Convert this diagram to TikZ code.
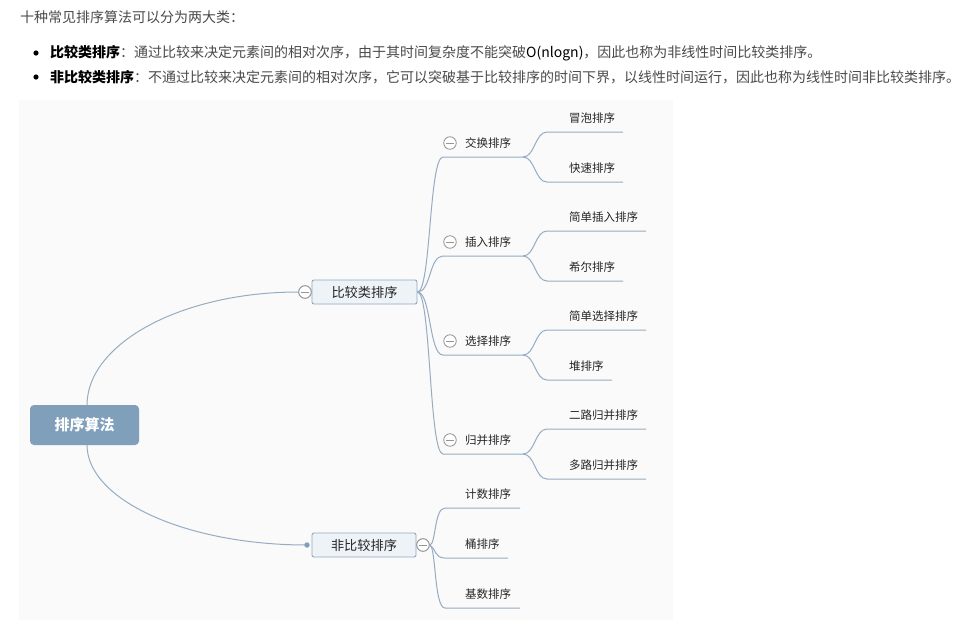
\documentclass[tikz,border=0pt]{standalone}
\usepackage{fontspec}
\setmainfont{Noto Sans CJK SC}
\definecolor{linec}{HTML}{96ACC3}
\definecolor{nodefill}{HTML}{EEF3F8}
\definecolor{nodeborder}{HTML}{90A8C2}
\definecolor{rootfill}{HTML}{809FBA}
\definecolor{panel}{HTML}{FAFAFA}
\definecolor{txt}{HTML}{262626}
\definecolor{hdr}{HTML}{4A4A4A}
\definecolor{ccol}{HTML}{959595}
\newcommand\leaffont{\fontsize{11.5}{13}\selectfont}
\newcommand\hdrfont{\fontsize{14}{16}\selectfont}
\begin{document}
\begin{tikzpicture}[x=1pt,y=-1pt,
  branch/.style={draw=linec, line width=1pt},
  leaf/.style={anchor=west, inner sep=0pt, font=\leaffont, text=txt},
  hdrtext/.style={anchor=west, inner sep=0pt, font=\hdrfont, text=hdr},
  minus/.style={circle, draw=ccol, fill=white, minimum size=12.5pt, inner sep=0pt, line width=0.85pt,
    path picture={\draw[ccol, line width=0.85pt] ([xshift=-3.8pt]path picture bounding box.center) -- ([xshift=3.8pt]path picture bounding box.center);}},
  catbox/.style={draw=nodeborder, fill=nodefill, rounded corners=2pt, line width=0.9pt, minimum width=105pt, minimum height=24pt, inner sep=0pt, font=\fontsize{13.2}{15}\selectfont, text=txt},
  rootbox/.style={fill=rootfill, rounded corners=4pt, minimum width=109pt, minimum height=40pt, inner sep=0pt, font=\fontsize{15}{17}\selectfont\bfseries, text=white}
]
\useasboundingbox (0,0) rectangle (976,630);
\fill[white] (0,0) rectangle (976,630);
\fill[panel] (19,100) rectangle (673,620);

% header text
\node[hdrtext] (intro) at (20,17) {十种常见排序算法可以分为两大类：};
\fill[black] (36,53) circle (2.6pt);
\node[hdrtext] (b1) at (50,53) {\textbf{\textcolor{black}{比较类排序}}：通过比较来决定元素间的相对次序，由于其时间复杂度不能突破\textcolor{black}{O(nlogn)}，因此也称为非线性时间比较类排序。};
\fill[black] (36,77) circle (2.6pt);
\node[hdrtext] (b2) at (50,77) {\textbf{\textcolor{black}{非比较类排序}}：不通过比较来决定元素间的相对次序，它可以突破基于比较排序的时间下界，以线性时间运行，因此也称为线性时间非比较类排序。};

% root and categories
\node[rootbox] (root) at (84.5,425) {排序算法};
\node[catbox] (cmp) at (364.5,292) {比较类排序};
\node[catbox, minimum width=104pt] (ncmp) at (364,545) {非比较排序};
\node[minus] (cmpm) at (305,292) {};
\node[minus] (ncmpm) at (423,545) {};
\coordinate (rt) at ([xshift=2.5pt]root.north);
\coordinate (rb) at ([xshift=2.5pt]root.south);
\draw[branch] (rt) .. controls (87.5,343) and (182,292) .. (cmpm.west);
\draw[branch] (rb) .. controls (87.5,500) and (186,545) .. (307,545);
\fill[rootfill] (307,545) circle (2.7pt);

% ---- comparison children
% 交换排序
\node[minus] (m1) at (450,143) {};
\node[leaf] (t1) at (465,143) {交换排序};
\coordinate (u1a) at (443,157); \coordinate (u1b) at (523,157);
\draw[branch] (cmp.east) .. controls (431,292) and (429,157) .. (u1a) -- (u1b);
\node[leaf] (g11) at (569,118) {冒泡排序};
\coordinate (g11a) at (547,132); \coordinate (g11b) at (623,132);
\draw[branch] (u1b) .. controls (535,157) and (535,132) .. (g11a) -- (g11b);
\node[leaf] (g12) at (569,168) {快速排序};
\coordinate (g12a) at (547,182); \coordinate (g12b) at (623,182);
\draw[branch] (u1b) .. controls (535,157) and (535,182) .. (g12a) -- (g12b);

% 插入排序
\node[minus] (m2) at (450,242) {};
\node[leaf] (t2) at (465,242) {插入排序};
\coordinate (u2a) at (443,256); \coordinate (u2b) at (523,256);
\draw[branch] (cmp.east) .. controls (431,292) and (429,256) .. (u2a) -- (u2b);
\node[leaf] (g21) at (569,217) {简单插入排序};
\coordinate (g21a) at (547,231); \coordinate (g21b) at (646,231);
\draw[branch] (u2b) .. controls (535,256) and (535,231) .. (g21a) -- (g21b);
\node[leaf] (g22) at (569,267) {希尔排序};
\coordinate (g22a) at (547,281); \coordinate (g22b) at (623,281);
\draw[branch] (u2b) .. controls (535,256) and (535,281) .. (g22a) -- (g22b);

% 选择排序
\node[minus] (m3) at (450,341) {};
\node[leaf] (t3) at (465,341) {选择排序};
\coordinate (u3a) at (443,355); \coordinate (u3b) at (523,355);
\draw[branch] (cmp.east) .. controls (431,292) and (429,355) .. (u3a) -- (u3b);
\node[leaf] (g31) at (569,316) {简单选择排序};
\coordinate (g31a) at (547,330); \coordinate (g31b) at (646,330);
\draw[branch] (u3b) .. controls (535,355) and (535,330) .. (g31a) -- (g31b);
\node[leaf] (g32) at (569,366) {堆排序};
\coordinate (g32a) at (547,380); \coordinate (g32b) at (612,380);
\draw[branch] (u3b) .. controls (535,355) and (535,380) .. (g32a) -- (g32b);

% 归并排序
\node[minus] (m4) at (450,440) {};
\node[leaf] (t4) at (465,440) {归并排序};
\coordinate (u4a) at (443,454); \coordinate (u4b) at (523,454);
\draw[branch] (cmp.east) .. controls (431,292) and (429,454) .. (u4a) -- (u4b);
\node[leaf] (g41) at (569,415) {二路归并排序};
\coordinate (g41a) at (547,429); \coordinate (g41b) at (646,429);
\draw[branch] (u4b) .. controls (535,454) and (535,429) .. (g41a) -- (g41b);
\node[leaf] (g42) at (569,465) {多路归并排序};
\coordinate (g42a) at (547,479); \coordinate (g42b) at (646,479);
\draw[branch] (u4b) .. controls (535,454) and (535,479) .. (g42a) -- (g42b);

% ---- non-comparison children
\node[leaf] (n1) at (465,494) {计数排序};
\coordinate (n1a) at (445,508); \coordinate (n1b) at (520,508);
\draw[branch] (ncmpm.east) .. controls (436,545) and (434,508) .. (n1a) -- (n1b);
\node[leaf] (n2) at (465,544) {桶排序};
\coordinate (n2a) at (445,558); \coordinate (n2b) at (508,558);
\draw[branch] (ncmpm.east) .. controls (436,548) and (434,558) .. (n2a) -- (n2b);
\node[leaf] (n3) at (465,594) {基数排序};
\coordinate (n3a) at (445,608); \coordinate (n3b) at (520,608);
\draw[branch] (ncmpm.east) .. controls (436,545) and (434,608) .. (n3a) -- (n3b);
% redraw collapse circles on top
\node[minus] at (ncmpm) {};
\node[minus] at (cmpm) {};
\end{tikzpicture}
\end{document}
